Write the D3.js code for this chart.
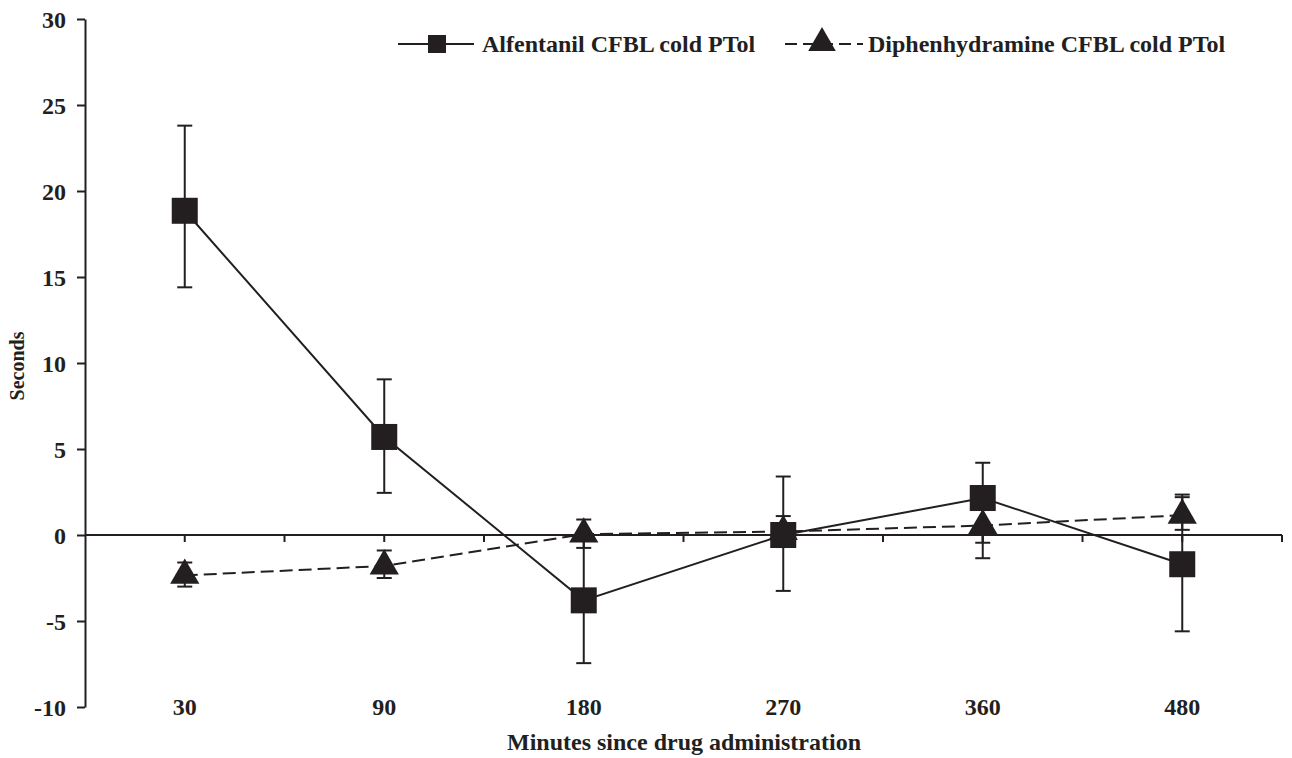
<!DOCTYPE html>
<html>
<head>
<meta charset="utf-8">
<script src="https://cdn.jsdelivr.net/npm/d3@7"></script>
<style>
  body { margin: 0; background: #fff; }
  svg text { font-family: "Liberation Serif", "Times New Roman", serif; font-weight: bold; fill: #231f20; }
</style>
</head>
<body>
<div id="chart"></div>
<script>
// Data
const minutes = ['30', '90', '180', '270', '360', '480'];
const yTicks = [-10, -5, 0, 5, 10, 15, 20, 25, 30];

const alfentanil = [18.85, 5.7, -3.8, 0.0, 2.15, -1.7];
const alfentanilLo = [14.4, 2.45, -7.45, -3.25, -0.45, -5.6];
const alfentanilHi = [23.8, 9.05, -0.15, 3.4, 4.2, 2.2];

const diphen = [-2.35, -1.8, 0.05, 0.2, 0.55, 1.15];
const diphenLo = [-3.0, -2.5, -0.75, -0.7, -1.35, 0.3];
const diphenHi = [-1.6, -0.9, 0.9, 1.1, 2.4, 2.35];

const seriesNames = ['Alfentanil CFBL cold PTol', 'Diphenhydramine CFBL cold PTol'];

const ink = '#231f20';
const width = 1292, height = 758;

const svg = d3.select('#chart').append('svg')
    .attr('width', width)
    .attr('height', height);

const x = d3.scaleBand().domain(minutes).range([85, 1282]).padding(0);
const y = d3.scaleLinear().domain([-10, 30]).range([707, 19]);
const cx = d => x(d) + x.bandwidth() / 2;

// y axis
const yAxis = svg.append('g')
    .attr('transform', 'translate(85,0)')
    .call(d3.axisLeft(y).tickValues(yTicks).tickFormat(d => String(d))
        .tickSize(8).tickSizeOuter(0).tickPadding(11));
yAxis.select('.domain').attr('stroke', ink).attr('stroke-width', 2);
yAxis.selectAll('.tick line').attr('stroke', ink).attr('stroke-width', 2);
yAxis.selectAll('.tick text').attr('font-size', 24).attr('font-family', null).attr('dy', '0.35em');

// zero line with ticks at category centres and boundaries
svg.append('line')
    .attr('x1', 85).attr('x2', 1282)
    .attr('y1', y(0)).attr('y2', y(0))
    .attr('stroke', ink).attr('stroke-width', 2);
const zeroTicks = [];
minutes.forEach(m => { zeroTicks.push(cx(m)); zeroTicks.push(x(m) + x.bandwidth()); });
svg.selectAll('.ztick').data(zeroTicks).enter().append('line')
    .attr('x1', d => d).attr('x2', d => d)
    .attr('y1', y(0)).attr('y2', y(0) + 7)
    .attr('stroke', ink).attr('stroke-width', 2);

// x category labels
svg.selectAll('.xlab').data(minutes).enter().append('text')
    .attr('x', d => cx(d))
    .attr('y', 715)
    .attr('text-anchor', 'middle')
    .attr('font-size', 24)
    .text(d => d);

// axis titles
svg.append('text')
    .attr('x', 684).attr('y', 750)
    .attr('text-anchor', 'middle')
    .attr('font-size', 24)
    .text('Minutes since drug administration');
svg.append('text')
    .attr('transform', 'translate(24,366) rotate(-90)')
    .attr('text-anchor', 'middle')
    .attr('font-size', 20)
    .text('Seconds');

function drawErrors(vals, lo, hi) {
    const g = svg.append('g');
    vals.forEach((v, i) => {
        const xc = cx(minutes[i]);
        g.append('line')
            .attr('x1', xc).attr('x2', xc)
            .attr('y1', y(hi[i])).attr('y2', y(lo[i]))
            .attr('stroke', ink).attr('stroke-width', 2);
        [lo[i], hi[i]].forEach(e => {
            g.append('line')
                .attr('x1', xc - 7.5).attr('x2', xc + 7.5)
                .attr('y1', y(e)).attr('y2', y(e))
                .attr('stroke', ink).attr('stroke-width', 2);
        });
    });
}

const line = d3.line().x((d, i) => cx(minutes[i])).y(d => y(d));

drawErrors(diphen, diphenLo, diphenHi);
drawErrors(alfentanil, alfentanilLo, alfentanilHi);

svg.append('path').datum(diphen)
    .attr('d', line).attr('fill', 'none')
    .attr('stroke', ink).attr('stroke-width', 2)
    .attr('stroke-dasharray', '13,6');
svg.append('path').datum(alfentanil)
    .attr('d', line).attr('fill', 'none')
    .attr('stroke', ink).attr('stroke-width', 2);

const tri = d3.symbol().type(d3.symbolTriangle).size(370);
svg.selectAll('.tri').data(diphen).enter().append('path')
    .attr('d', tri)
    .attr('transform', (d, i) => `translate(${cx(minutes[i])},${y(d)})`)
    .attr('fill', ink);

const sq = 26;
svg.selectAll('.sq').data(alfentanil).enter().append('rect')
    .attr('x', (d, i) => cx(minutes[i]) - sq / 2)
    .attr('y', d => y(d) - sq / 2)
    .attr('width', sq).attr('height', sq)
    .attr('fill', ink);

// legend
const leg = svg.append('g');
leg.append('line').attr('x1', 398).attr('x2', 474).attr('y1', 44).attr('y2', 44)
    .attr('stroke', ink).attr('stroke-width', 2);
leg.append('rect').attr('x', 428).attr('y', 35).attr('width', 18).attr('height', 18).attr('fill', ink);
leg.append('text').attr('x', 482).attr('y', 52).attr('font-size', 24).text(seriesNames[0]);

leg.append('line').attr('x1', 785).attr('x2', 863).attr('y1', 44).attr('y2', 44)
    .attr('stroke', ink).attr('stroke-width', 2).attr('stroke-dasharray', '12,6');
leg.append('path').attr('d', d3.symbol().type(d3.symbolTriangle).size(330))
    .attr('transform', 'translate(822,43)').attr('fill', ink);
leg.append('text').attr('x', 868).attr('y', 52).attr('font-size', 24).text(seriesNames[1]);
</script>
</body>
</html>
